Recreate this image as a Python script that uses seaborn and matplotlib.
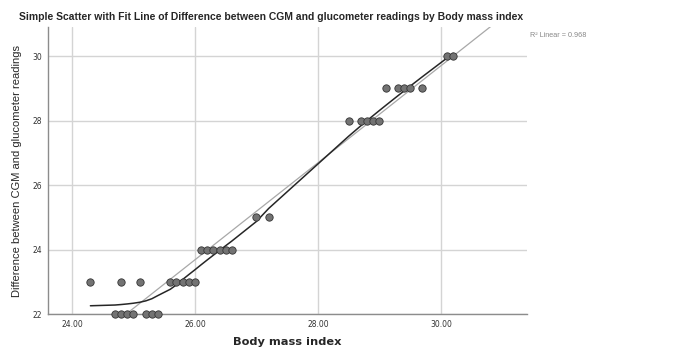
import numpy as np
import matplotlib
matplotlib.use("Agg")
import matplotlib.pyplot as plt
import seaborn as sns
import pandas as pd

# Body mass index vs difference between CGM and glucometer readings
bmi = [24.3, 24.8, 25.1, 25.6, 25.7, 25.8, 25.9, 26.0,
       24.7, 24.8, 24.9, 25.0, 25.2, 25.3, 25.4,
       26.1, 26.2, 26.3, 26.4, 26.5, 26.6,
       27.0, 27.2,
       28.5, 28.7, 28.8, 28.9, 29.0,
       29.1, 29.3, 29.4, 29.5, 29.7,
       30.1, 30.2]
diff = [23, 23, 23, 23, 23, 23, 23, 23,
        22, 22, 22, 22, 22, 22, 22,
        24, 24, 24, 24, 24, 24,
        25, 25,
        28, 28, 28, 28, 28,
        29, 29, 29, 29, 29,
        30, 30]
r2_text = "R\u00b2 Linear = 0.968"

df = pd.DataFrame({"bmi": bmi, "diff": diff})


def loess(x, y, frac=0.5, iters=3):
    # local linear fit, tricube weights, with robustness passes
    x = np.asarray(x, float)
    y = np.asarray(y, float)
    n = len(x)
    k = int(np.ceil(frac * n))
    rob = np.ones(n)

    def fit_at(x0):
        d = np.abs(x - x0)
        h = np.sort(d)[k - 1] * 1.0001
        w = np.clip(1 - (d / h) ** 3, 0, None) ** 3 * rob
        X = np.column_stack([np.ones_like(x), x - x0])
        W = np.diag(w)
        beta = np.linalg.lstsq(X.T @ W @ X, X.T @ W @ y, rcond=None)[0]
        return beta[0]

    for _ in range(iters):
        fitted = np.array([fit_at(v) for v in x])
        res = y - fitted
        s = np.median(np.abs(res))
        if s == 0:
            break
        u = res / (6 * s)
        rob = np.clip(1 - u ** 2, 0, None) ** 2
    xs = np.unique(x)
    return xs, np.array([fit_at(v) for v in xs])


sns.set_style("white")
plt.rcParams["font.family"] = ["Liberation Sans", "DejaVu Sans"]

fig = plt.figure(figsize=(6.73, 3.48), dpi=100)
ax = fig.add_axes([0.0713, 0.0977, 0.7117, 0.8243])
ax.set_xlim(23.61, 31.4)
ax.set_ylim(22, 30.9)

ax.grid(True, color="#d4d4d4", linewidth=1)
ax.set_axisbelow(True)

sns.regplot(data=df, x="bmi", y="diff", scatter=False, ci=None, truncate=False,
            line_kws={"color": "#a8a8a8", "linewidth": 0.9}, ax=ax)
lx, ly = loess(df["bmi"], df["diff"])
sns.lineplot(x=lx, y=ly, color="#262626", linewidth=1.1, ax=ax, estimator=None)
sns.scatterplot(data=df, x="bmi", y="diff", s=28, color="#737373",
                edgecolor="#333333", linewidth=0.6, ax=ax, zorder=5, clip_on=False)

ax.set_xlim(23.61, 31.4)
ax.set_ylim(22, 30.9)
ax.set_xticks([24, 26, 28, 30])
ax.set_xticklabels([f"{t:.2f}" for t in [24, 26, 28, 30]])
ax.set_yticks([22, 24, 26, 28, 30])
ax.tick_params(length=0, labelsize=5.5, labelcolor="#333333", pad=4)
for lbl in ax.get_xticklabels() + ax.get_yticklabels():
    lbl.set_family("DejaVu Sans")

for s in ["top", "right"]:
    ax.spines[s].set_visible(False)
for s in ["left", "bottom"]:
    ax.spines[s].set_color("#8c8c8c")
    ax.spines[s].set_linewidth(1)

ax.set_xlabel("Body mass index", fontsize=8.2, fontweight="bold",
              family="DejaVu Sans", labelpad=6)
ax.set_ylabel("Difference between CGM and glucometer readings", fontsize=8,
              labelpad=8)
fig.text(0.403, 0.951, "Simple Scatter with Fit Line of Difference between CGM and "
         "glucometer readings by Body mass index", ha="center", va="center",
         fontsize=7.45, fontweight="bold")
fig.text(0.788, 0.893, r2_text, fontsize=5.2, color="#888888")

fig.savefig("out.png", dpi=100)
